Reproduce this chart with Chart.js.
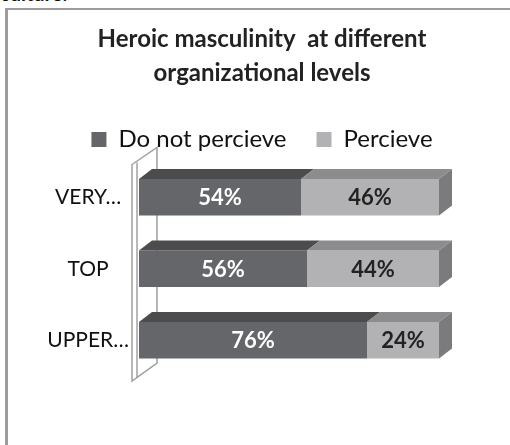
<!DOCTYPE html>
<html lang="en">
  <head>
    <meta charset="UTF-8" />
    <title>Heroic masculinity at different organizational levels</title>
    <script src="https://cdn.jsdelivr.net/npm/chart.js"></script>
    <style>
      html, body { margin: 0; padding: 0; background: #fff; }
      body { width: 510px; height: 445px; position: relative; overflow: hidden; font-family: Lato, sans-serif; }
      #above { position: absolute; left: 0; top: -17px; font: bold 20px Lato, sans-serif; color: #111; line-height: 20px; }
      #frame { position: absolute; left: 5px; top: 8px; width: 520px; height: 460px; border-left: 3px solid #9c9c9c; border-top: 2px solid #9c9c9c; }
      #wrap { position: absolute; left: 0; top: 0; width: 510px; height: 445px; }
    </style>
  </head>
  <body>
    <div id="above">culture.</div>
    <div id="frame"></div>
    <div id="wrap"><canvas id="grafico"></canvas></div>

    <script>
      const levels = ['VERY…', 'TOP', 'UPPER…'];
      const notPerceive = [54, 56, 76];
      const perceive = [46, 44, 24];

      // profundidade da face 3D
      const DX = 13, DY = 10;

      function poly(ctx, pts) {
        ctx.beginPath();
        ctx.moveTo(pts[0][0], pts[0][1]);
        for (let k = 1; k < pts.length; k++) ctx.lineTo(pts[k][0], pts[k][1]);
        ctx.closePath();
        ctx.fill();
      }

      const bar3d = {
        id: 'bar3d',
        beforeDatasetsDraw(chart) {
          // parede do eixo vertical
          const { ctx, chartArea: a } = chart;
          ctx.save();
          ctx.beginPath();
          ctx.moveTo(a.left - 7, a.top + 3);
          ctx.lineTo(a.left + 18, a.top - 14);
          ctx.lineTo(a.left + 18, a.bottom - 13);
          ctx.lineTo(a.left - 7, a.bottom + 5);
          ctx.closePath();
          ctx.fillStyle = '#ffffff';
          ctx.fill();
          ctx.strokeStyle = '#a0a0a0';
          ctx.lineWidth = 1.5;
          ctx.stroke();
          ctx.beginPath();
          ctx.moveTo(a.left - 2, a.top + 1);
          ctx.lineTo(a.left - 2, a.bottom + 2);
          ctx.stroke();
          ctx.restore();
        },
        afterDatasetsDraw(chart) {
          const { ctx } = chart;
          const last = chart.data.datasets.length - 1;
          ctx.save();
          chart.data.datasets.forEach((ds, i) => {
            chart.getDatasetMeta(i).data.forEach((bar, j) => {
              const { x, y, base, height } = bar.getProps(['x', 'y', 'base', 'height'], true);
              const top = y - height / 2, bottom = y + height / 2;
              ctx.fillStyle = ds.topColor;
              poly(ctx, [[base, top], [base + DX, top - DY], [x + DX, top - DY], [x, top]]);
              if (i === last) {
                ctx.fillStyle = ds.sideColor;
                poly(ctx, [[x, top], [x + DX, top - DY], [x + DX, bottom - DY], [x, bottom]]);
              }
              ctx.fillStyle = ds.labelColor;
              ctx.font = 'bold 22px Lato, sans-serif';
              ctx.textAlign = 'center';
              ctx.textBaseline = 'middle';
              ctx.fillText(ds.data[j] + '%', (x + base) / 2, y + 1);
            });
          });
          ctx.restore();
        }
      };

      const chart = new Chart(document.getElementById('grafico'), {
        type: 'bar',
        data: {
          labels: levels,
          datasets: [
            {
              label: 'Do not percieve',
              data: notPerceive,
              backgroundColor: '#656669',
              topColor: '#4c4c4e',
              labelColor: '#ffffff',
              categoryPercentage: 1,
              barPercentage: 0.51
            },
            {
              label: 'Percieve',
              data: perceive,
              backgroundColor: '#b2b2b4',
              topColor: '#8c8c8e',
              sideColor: '#7b7b7d',
              labelColor: '#222222',
              categoryPercentage: 1,
              barPercentage: 0.51
            }
          ]
        },
        options: {
          indexAxis: 'y',
          responsive: true,
          maintainAspectRatio: false,
          animation: false,
          layout: { padding: { top: 0, left: 14, right: 0, bottom: 69 } },
          plugins: {
            tooltip: { enabled: false },
            title: {
              display: true,
              text: ['Heroic masculinity  at different', 'organizational levels'],
              color: '#222222',
              font: { family: 'Lato', size: 24, weight: 'bold', lineHeight: 34 / 24 },
              padding: { top: 22, bottom: 7.5 }
            },
            legend: {
              display: true,
              labels: {
                color: '#111111',
                font: { family: 'Lato', size: 24 },
                boxWidth: 15,
                boxHeight: 15,
                padding: 30
              }
            }
          },
          scales: {
            x: {
              stacked: true,
              min: 0,
              max: 100,
              display: false
            },
            y: {
              stacked: true,
              grid: { display: false, drawTicks: false },
              border: { display: false },
              afterFit(scale) { scale.width = 125; },
              ticks: {
                color: '#111111',
                font: { family: 'Lato', size: 21 },
                crossAlign: 'center',
                padding: 10
              }
            },
            // espaço vazio à direita das barras
            yRight: {
              type: 'linear',
              position: 'right',
              grid: { display: false, drawTicks: false },
              border: { display: false },
              ticks: { display: false },
              afterFit(scale) { scale.width = 71; }
            }
          }
        },
        plugins: [bar3d]
      });
    </script>
  </body>
</html>
